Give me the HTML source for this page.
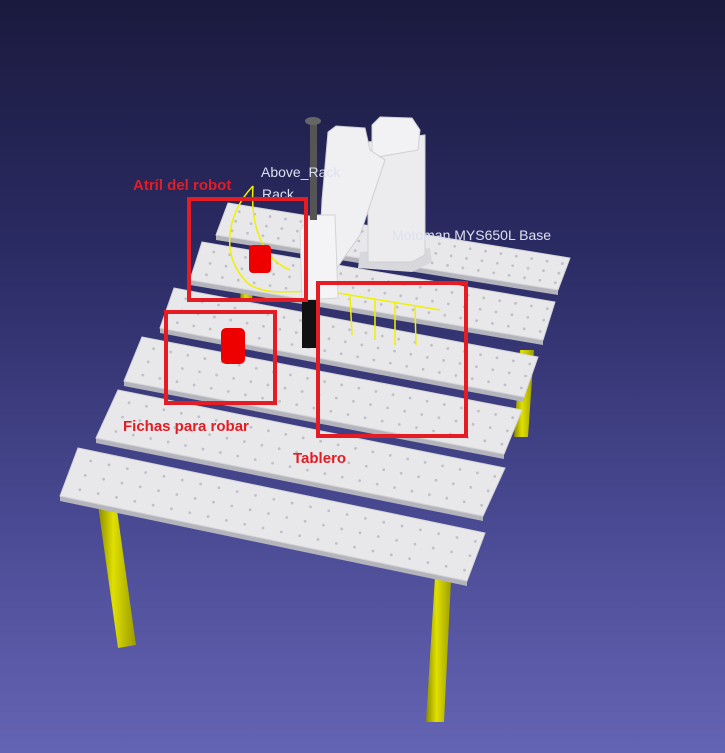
<!DOCTYPE html>
<html><head><meta charset="utf-8"><style>
html,body{margin:0;padding:0;}
body{width:725px;height:753px;overflow:hidden;background:linear-gradient(#1a1a3e 0%,#2c2c66 35%,#4a4a94 70%,#6464b4 100%);font-family:"Liberation Sans",sans-serif;}
svg{display:block}
</style></head><body>
<svg width="725" height="753" viewBox="0 0 725 753">
<defs>
<linearGradient id="leg" x1="0" x2="1"><stop offset="0" stop-color="#8a8a00"/><stop offset="0.4" stop-color="#e0e000"/><stop offset="1" stop-color="#9a9a00"/></linearGradient>
</defs>
<g>
<polygon points="98,505 116,503 136,645 118,648" fill="url(#leg)"/>
<polygon points="436,560 452,560 444,722 426,722" fill="url(#leg)"/>
<polygon points="520,350 534,350 528,437 514,437" fill="url(#leg)"/>
<polygon points="242,280 254,280 252,300 240,300" fill="url(#leg)"/>
</g>
<g id="slats"></g>
<g>
<polygon points="360,252 430,248 432,262 412,272 358,268" fill="#d8d8dc"/>
<polygon points="368,142 425,135 425,255 412,262 368,262" fill="#ececee" stroke="#d0d0d4"/>
<polygon points="372,125 380,117 412,118 420,130 418,150 372,158" fill="#f2f2f4" stroke="#d0d0d4"/>
<polygon points="328,132 336,126 365,128 370,150 385,160 360,235 332,275 318,280 322,200" fill="#f0f0f2" stroke="#cfcfd4"/>
<polygon points="300,230 312,215 335,215 338,298 302,300" fill="#f4f4f6" stroke="#d4d4d8"/>
<rect x="310" y="120" width="7" height="100" fill="#555"/>
<ellipse cx="313" cy="121" rx="8" ry="4" fill="#666"/>
<rect x="302" y="300" width="16" height="48" fill="#111"/>
</g>
<g fill="none" stroke="#f0f000" stroke-width="1.5">
<path d="M253,186 C225,215 220,260 250,285 C270,296 290,290 300,292"/>
<path d="M253,186 C250,230 265,260 290,270"/>
<path d="M338,293 L440,310 M350,296 L352,335 M375,300 L375,340 M395,303 L395,345 M415,307 L416,345"/>
</g>
<g>
<rect x="249" y="245" width="22" height="28" rx="4" fill="#e00"/>
<rect x="221" y="328" width="24" height="36" rx="5" fill="#e00"/>
</g>
<g font-size="14" fill="#dde0f0">
<text x="261" y="177">Above_Rack</text>
<text x="262" y="199">Rack</text>
<text x="392" y="240">Motoman MYS650L Base</text>
</g>
<g fill="none" stroke="#e41c24" stroke-width="4">
<rect x="189" y="199" width="117" height="101"/>
<rect x="166" y="312" width="109" height="91"/>
<rect x="318" y="283" width="148" height="153"/>
</g>
<g font-size="15" font-weight="bold" fill="#e41c24">
<text x="133" y="190">Atríl del robot</text>
<text x="123" y="431">Fichas para robar</text>
<text x="293" y="463">Tablero</text>
</g>
</svg>
<script>
const slats=[
 [228,203,570,258,-12,32],
 [202,242,555,302,-12,38],
 [174,288,538,357,-14,40],
 [142,337,522,410,-18,44],
 [118,390,505,468,-22,48],
 [78,448,485,533,-18,48]];
const g=document.getElementById('slats');
const NS='http://www.w3.org/2000/svg';
slats.forEach((s,i)=>{
 const [x1,y1,x2,y2,dx,dy]=s;
 const side=document.createElementNS(NS,'polygon');
 side.setAttribute('points',`${x1+dx},${y1+dy} ${x2+dx},${y2+dy} ${x2+dx},${y2+dy+5} ${x1+dx},${y1+dy+5}`);
 side.setAttribute('fill','#b4b4bc');
 
 
 g.appendChild(side);
 const top=document.createElementNS(NS,'polygon');
 top.setAttribute('points',`${x1},${y1} ${x2},${y2} ${x2+dx},${y2+dy} ${x1+dx},${y1+dy}`);
 top.setAttribute('fill','#e8e8ea');
 top.setAttribute('stroke','#d4d4d8');
 
 
 g.appendChild(top);
 for(let a=0.04;a<1;a+=0.045){for(let b=0.2;b<1;b+=0.3){
  const c=document.createElementNS(NS,'circle');
  c.setAttribute('cx',x1+(x2-x1)*a+dx*b);c.setAttribute('cy',y1+(y2-y1)*a+dy*b);c.setAttribute('r',1.4);c.setAttribute('fill','#c0c0c8');
  
  
  g.appendChild(c);}}
});
</script>
</body></html>
